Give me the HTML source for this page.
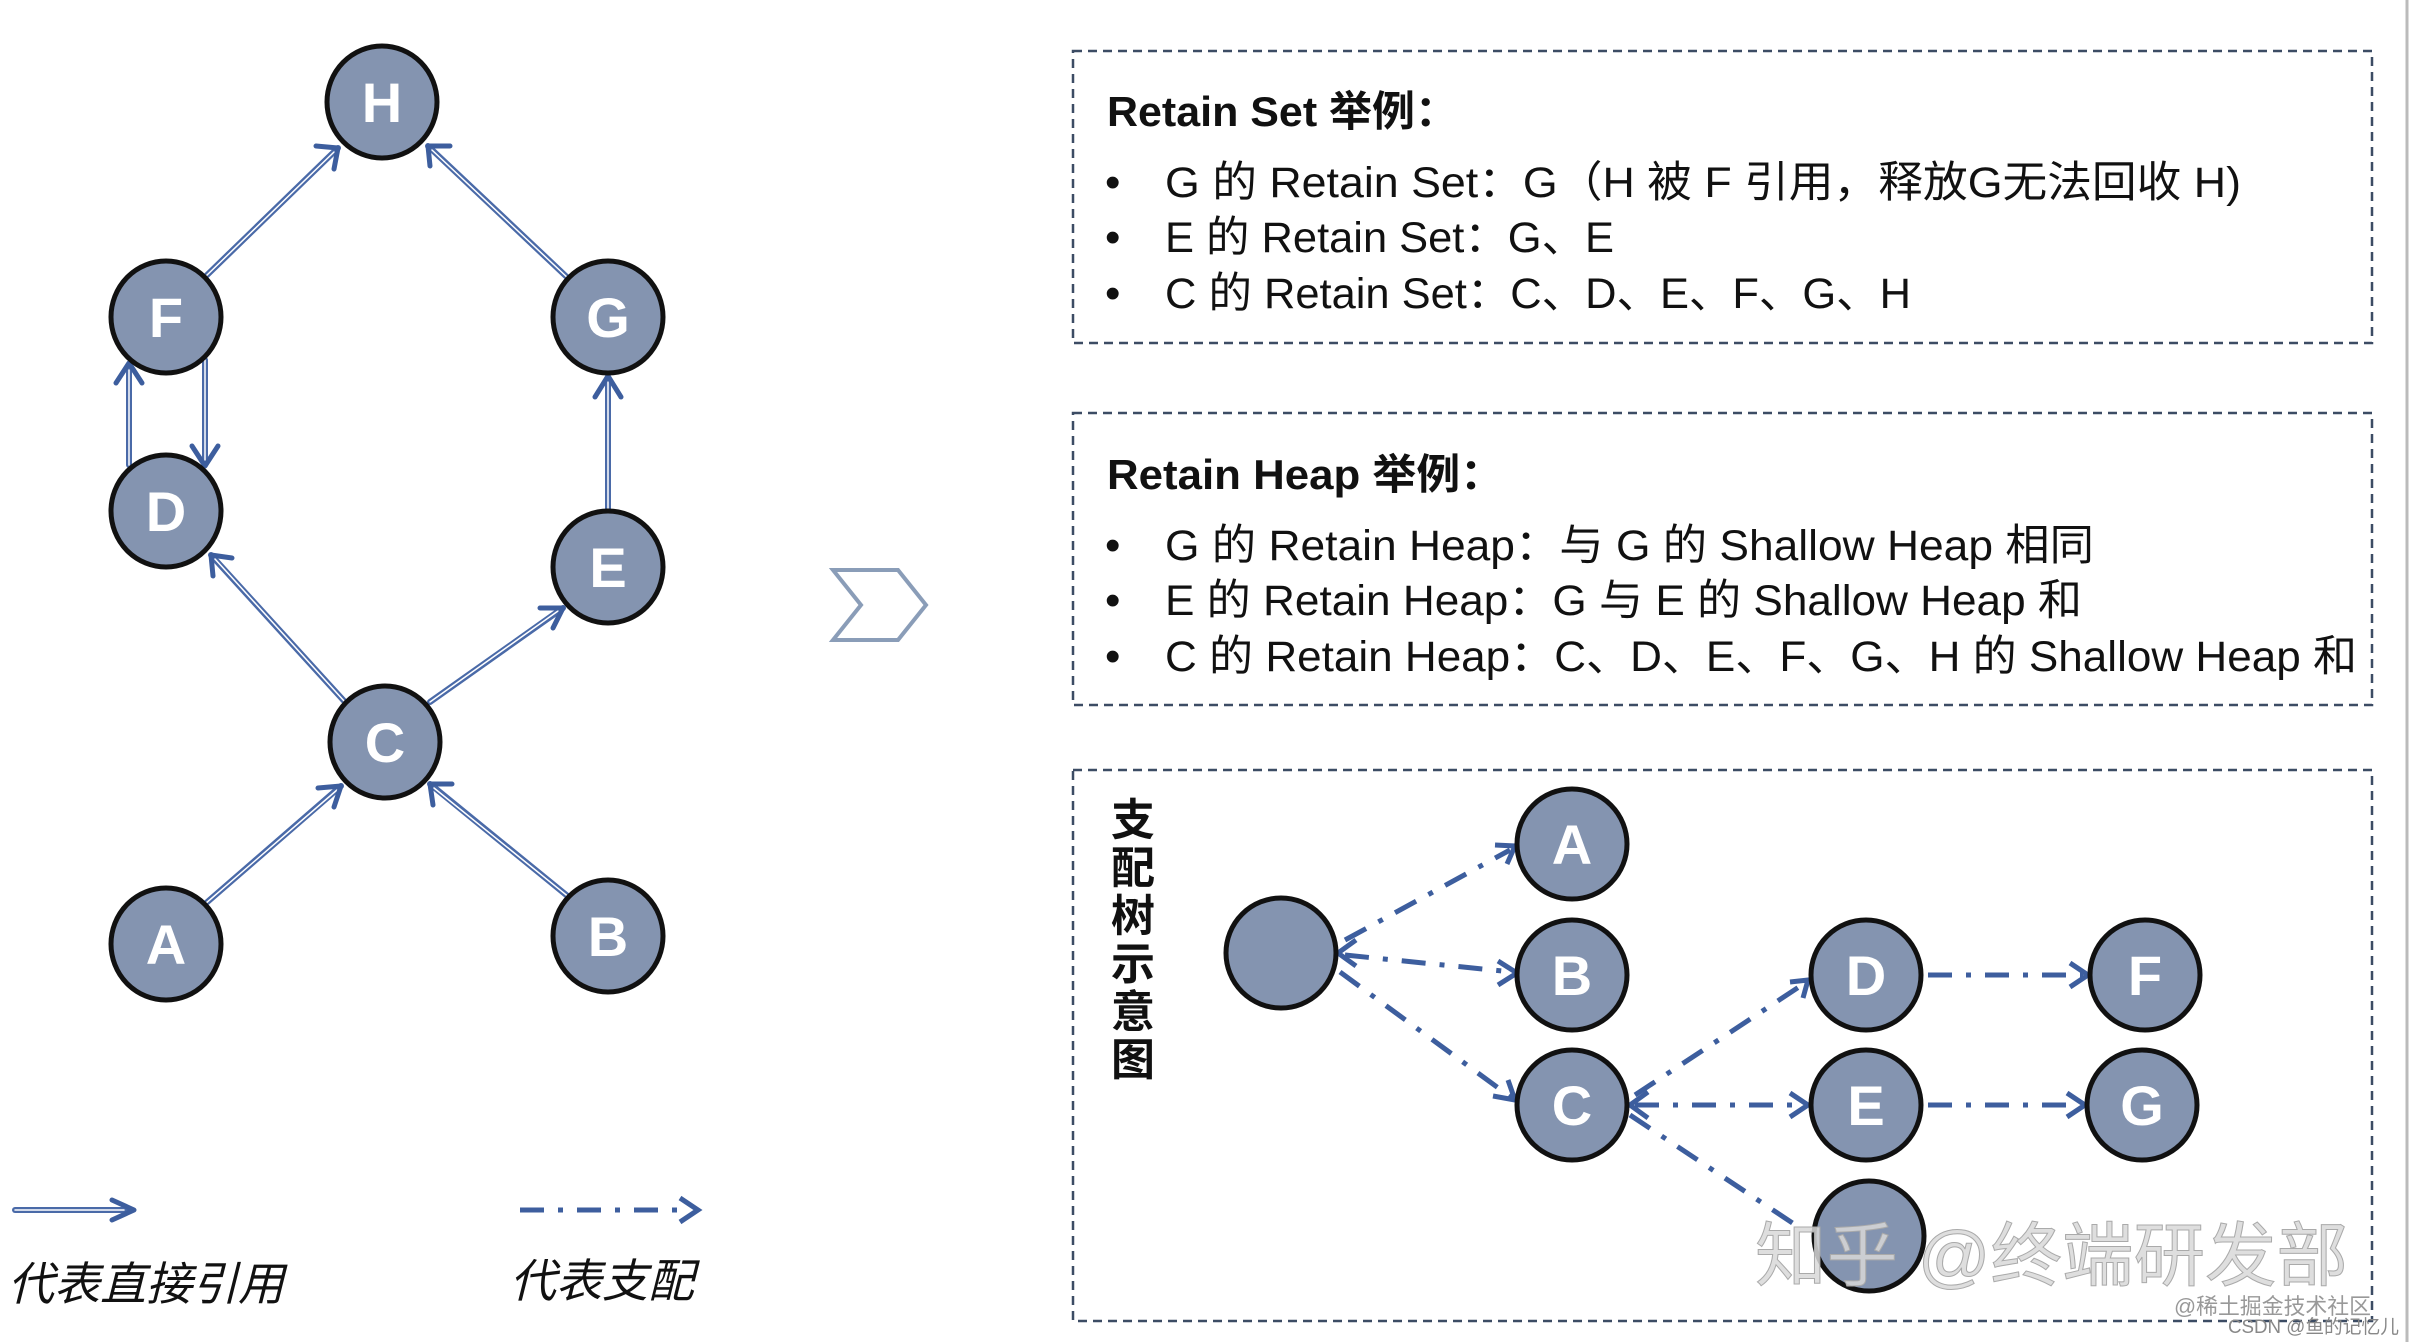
<!DOCTYPE html>
<html><head><meta charset="utf-8"><style>
html,body{margin:0;padding:0;background:#fff;}
svg{display:block;}
.t{font-family:"Liberation Sans","Noto Sans CJK SC",sans-serif;fill:#111;}
.n{font-family:"Liberation Sans",sans-serif;font-weight:bold;fill:#fff;font-size:56px;}
</style></head><body>
<svg width="2414" height="1342" viewBox="0 0 2414 1342" xmlns="http://www.w3.org/2000/svg">
<defs>
<marker id="oa" markerWidth="10" markerHeight="10" refX="8" refY="5" orient="auto" markerUnits="userSpaceOnUse" viewBox="0 0 10 10">
</marker>
</defs>
<rect width="2414" height="1342" fill="#fff"/>
<line x1="2407" y1="0" x2="2407" y2="1342" stroke="#bbb" stroke-width="3"/>

<!-- left graph edges (double lines) -->
<g stroke-linecap="round" fill="none">
 <g stroke="#4a6aa8" stroke-width="6">
  <line x1="205" y1="277" x2="338" y2="148"/>
  <line x1="570" y1="280" x2="428" y2="146"/>
  <line x1="129" y1="465" x2="129" y2="365"/>
  <line x1="205" y1="360" x2="205" y2="465"/>
  <line x1="608" y1="510" x2="608" y2="377"/>
  <line x1="345" y1="702" x2="211" y2="555"/>
  <line x1="430" y1="702" x2="563" y2="608"/>
  <line x1="205" y1="904" x2="341" y2="786"/>
  <line x1="570" y1="898" x2="430" y2="784"/>
  <line x1="15" y1="1210" x2="130" y2="1210"/>
 </g>
 <g stroke="#fff" stroke-width="1.5">
  <line x1="205" y1="277" x2="334" y2="152"/>
  <line x1="570" y1="280" x2="432" y2="150"/>
  <line x1="129" y1="465" x2="129" y2="370"/>
  <line x1="205" y1="360" x2="205" y2="460"/>
  <line x1="608" y1="510" x2="608" y2="382"/>
  <line x1="345" y1="702" x2="215" y2="559"/>
  <line x1="430" y1="702" x2="558" y2="611"/>
  <line x1="205" y1="904" x2="337" y2="790"/>
  <line x1="570" y1="898" x2="434" y2="788"/>
  <line x1="15" y1="1210" x2="124" y2="1210"/>
 </g>
 <g stroke="#3d5e9e" stroke-width="5" stroke-linejoin="round">
  <polyline points="316,146 338,148 334,169"/>
  <polyline points="430,166 428,146 450,146"/>
  <polyline points="116,383 129,363 142,383"/>
  <polyline points="192,446 205,466 218,446"/>
  <polyline points="595,397 608,376 621,397"/>
  <polyline points="213,576 211,555 232,558"/>
  <polyline points="540,608 563,608 553,628"/>
  <polyline points="318,788 341,786 334,807"/>
  <polyline points="433,805 430,784 452,784"/>
  <polyline points="112,1200 134,1210 112,1220"/>
 </g>
</g>

<!-- left nodes -->
<g fill="#8494b0" stroke="#111" stroke-width="5">
 <ellipse cx="382" cy="102" rx="55" ry="56"/>
 <ellipse cx="166" cy="317" rx="55" ry="56"/>
 <ellipse cx="608" cy="317" rx="55" ry="56"/>
 <ellipse cx="166" cy="511" rx="55" ry="56"/>
 <ellipse cx="608" cy="567" rx="55" ry="56"/>
 <ellipse cx="385" cy="742" rx="55" ry="56"/>
 <ellipse cx="166" cy="944" rx="55" ry="56"/>
 <ellipse cx="608" cy="936" rx="55" ry="56"/>
</g>
<g class="n" text-anchor="middle">
 <text x="382" y="122">H</text>
 <text x="166" y="337">F</text>
 <text x="608" y="337">G</text>
 <text x="166" y="531">D</text>
 <text x="608" y="587">E</text>
 <text x="385" y="762">C</text>
 <text x="166" y="964">A</text>
 <text x="608" y="956">B</text>
</g>

<!-- legend -->
<line x1="520" y1="1210" x2="690" y2="1210" stroke="#3d5e9e" stroke-width="5" stroke-dasharray="24,14,5,14"/>
<polyline points="680,1198 698,1210 680,1222" fill="none" stroke="#3d5e9e" stroke-width="5"/>
<text class="t" x="8" y="1300" font-size="46" font-style="italic" textLength="276" lengthAdjust="spacingAndGlyphs">代表直接引用</text>
<text class="t" x="510" y="1297" font-size="46" font-style="italic" textLength="184" lengthAdjust="spacingAndGlyphs">代表支配</text>

<!-- chevron -->
<polygon points="833,570 898,570 926,605 898,640 833,640 861,605" fill="#fff" stroke="#8a9db8" stroke-width="4"/>

<!-- boxes -->
<g fill="none" stroke="#3c4c64" stroke-width="2.5" stroke-dasharray="9,6">
 <rect x="1073" y="51" width="1299" height="292"/>
 <rect x="1073" y="413" width="1299" height="292"/>
 <rect x="1073" y="770" width="1299" height="551"/>
</g>

<g class="t">
 <text x="1107" y="126" font-size="42" font-weight="bold" textLength="351" lengthAdjust="spacingAndGlyphs">Retain Set 举例：</text>
 <text x="1107" y="489" font-size="42" font-weight="bold" textLength="397" lengthAdjust="spacingAndGlyphs">Retain Heap 举例：</text>
 <g font-size="44">
  <text x="1105" y="197">•</text><text x="1105" y="252">•</text><text x="1105" y="308">•</text>
  <text x="1105" y="560">•</text><text x="1105" y="615">•</text><text x="1105" y="671">•</text>
 </g>
 <g font-size="43">
  <text x="1165" y="197" textLength="1076" lengthAdjust="spacingAndGlyphs">G 的 Retain Set：G（H 被 F 引用，释放G无法回收 H)</text>
  <text x="1165" y="252" textLength="449" lengthAdjust="spacingAndGlyphs">E 的 Retain Set：G、E</text>
  <text x="1165" y="308" textLength="746" lengthAdjust="spacingAndGlyphs">C 的 Retain Set：C、D、E、F、G、H</text>
  <text x="1165" y="560" textLength="929" lengthAdjust="spacingAndGlyphs">G 的 Retain Heap：与 G 的 Shallow Heap 相同</text>
  <text x="1165" y="615" textLength="917" lengthAdjust="spacingAndGlyphs">E 的 Retain Heap：G 与 E 的 Shallow Heap 和</text>
  <text x="1165" y="671" textLength="1192" lengthAdjust="spacingAndGlyphs">C 的 Retain Heap：C、D、E、F、G、H 的 Shallow Heap 和</text>
 </g>
 <g font-size="44" font-weight="bold" text-anchor="middle">
  <text x="1133" y="835">支</text><text x="1133" y="883">配</text><text x="1133" y="931">树</text>
  <text x="1133" y="979">示</text><text x="1133" y="1027">意</text><text x="1133" y="1075">图</text>
 </g>
</g>

<!-- dominator tree edges -->
<g fill="none" stroke="#3d5e9e" stroke-width="5">
 <g stroke-dasharray="24,14,5,14">
  <line x1="1345" y1="940" x2="1510" y2="850"/>
  <line x1="1345" y1="955" x2="1512" y2="972"/>
  <line x1="1340" y1="972" x2="1512" y2="1098"/>
  <line x1="1635" y1="1095" x2="1805" y2="983"/>
  <line x1="1635" y1="1105" x2="1805" y2="1105"/>
  <line x1="1630" y1="1115" x2="1800" y2="1228"/>
  <line x1="1928" y1="975" x2="2083" y2="975"/>
  <line x1="1928" y1="1105" x2="2080" y2="1105"/>
 </g>
 <g stroke-linejoin="miter">
  <polyline points="1495,845 1515,846 1507,864"/>
  <polyline points="1498,961 1517,973 1498,985"/>
  <polyline points="1493,1096 1515,1100 1508,1080"/>
  <polyline points="1790,982 1808,980 1803,998"/>
  <polyline points="1790,1093 1808,1105 1790,1117"/>
  <polyline points="2070,963 2088,975 2070,987"/>
  <polyline points="2067,1093 2085,1105 2067,1117"/>
  <polyline points="1356,940 1338,953 1356,966"/>
  <polyline points="1648,1092 1630,1105 1648,1118"/>
 </g>
</g>

<!-- dominator nodes -->
<g fill="#8494b0" stroke="#111" stroke-width="5">
 <circle cx="1281" cy="953" r="55"/>
 <circle cx="1572" cy="844" r="55"/>
 <circle cx="1572" cy="975" r="55"/>
 <circle cx="1572" cy="1105" r="55"/>
 <circle cx="1866" cy="975" r="55"/>
 <circle cx="1866" cy="1105" r="55"/>
 <circle cx="2145" cy="975" r="55"/>
 <circle cx="2142" cy="1105" r="55"/>
 <circle cx="1869" cy="1236" r="55"/>
</g>
<g class="n" text-anchor="middle">
 <text x="1572" y="864">A</text>
 <text x="1572" y="995">B</text>
 <text x="1572" y="1125">C</text>
 <text x="1866" y="995">D</text>
 <text x="1866" y="1125">E</text>
 <text x="2145" y="995">F</text>
 <text x="2142" y="1125">G</text>
</g>

<!-- watermarks -->
<text x="1755" y="1280" font-family="Liberation Sans,'Noto Sans CJK SC',sans-serif" font-size="70" fill="#d8d8d8" fill-opacity="0.85" stroke="#aaa" stroke-width="1" textLength="593" lengthAdjust="spacingAndGlyphs">知乎 @终端研发部</text>
<text x="2174" y="1314" font-family="Liberation Sans,'Noto Sans CJK SC',sans-serif" font-size="22" fill="#999" textLength="197" lengthAdjust="spacingAndGlyphs">@稀土掘金技术社区</text>
<text x="2228" y="1333" font-family="Liberation Sans,'Noto Sans CJK SC',sans-serif" font-size="19" fill="#888" textLength="171" lengthAdjust="spacingAndGlyphs">CSDN @鱼的记忆儿</text>
</svg>
</body></html>
